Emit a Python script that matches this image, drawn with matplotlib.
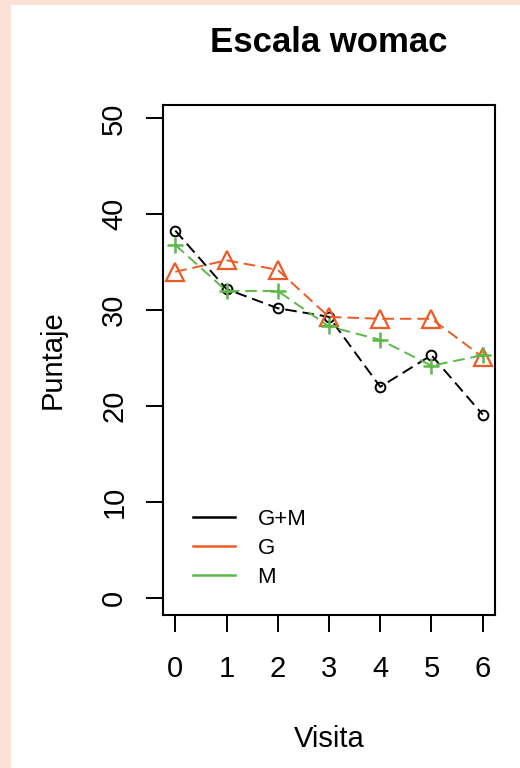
import matplotlib.pyplot as plt
from matplotlib.patches import Rectangle

visita = [0, 1, 2, 3, 4, 5, 6]
gm = [38.3, 32.2, 30.2, 29.3, 22.0, 25.3, 19.1]
g = [34.0, 35.2, 34.2, 29.3, 29.1, 29.1, 25.1]
m = [36.8, 32.0, 32.0, 28.3, 26.9, 24.2, 25.3]

plt.rcParams["font.family"] = ["Liberation Sans", "DejaVu Sans"]

fig = plt.figure(figsize=(5.2, 7.68), dpi=100, facecolor="#fce2d6")
fig.patches.append(Rectangle((11 / 520, 0), 1, 763 / 768, transform=fig.transFigure,
                             facecolor="white", edgecolor="none", zorder=-10))

ax = fig.add_axes([163 / 520, 1 - 615 / 768, 332 / 520, 510 / 768])

dash = (6, 3)
ax.plot(visita, gm, color="black", lw=1.4, dashes=dash, marker="o", ms=7,
        mfc="none", mec="black", mew=1.4, label="G+M")
ax.plot(visita, g, color="#ee5a24", lw=1.4, dashes=dash, marker="^", ms=13,
        mfc="none", mec="#ee5a24", mew=1.6, label="G")
ax.plot(visita, m, color="#5cb848", lw=1.4, dashes=dash, marker="+", ms=12,
        mec="#5cb848", mew=1.8, label="M")

ax.set_xlim(-0.24, 6.24)
ax.set_ylim(-1.8, 51.4)
ax.set_xticks(visita)
ax.set_yticks([0, 10, 20, 30, 40, 50])
ax.tick_params(direction="out", length=12, width=1.4, labelsize=21)
ax.tick_params(axis="x", pad=17)
ax.tick_params(axis="y", pad=13)
for lab in ax.get_yticklabels():
    lab.set_rotation(90)
    lab.set_va("center")
for sp in ax.spines.values():
    sp.set_linewidth(1.5)

ax.set_title("Escala womac", fontsize=25, fontweight="bold", pad=38)
ax.set_xlabel("Visita", fontsize=21, labelpad=30)
ax.set_ylabel("Puntaje", fontsize=21, labelpad=24)

handles = [plt.Line2D([], [], color=c, lw=1.8) for c in ["black", "#ee5a24", "#5cb848"]]
ax.legend(handles, ["G+M", "G", "M"], loc="lower left",
          bbox_to_anchor=(30 / 332, 27 / 510), borderaxespad=0, borderpad=0,
          frameon=False, fontsize=16, handlelength=1.9, labelspacing=0.36,
          handletextpad=1.0)

fig.savefig("out.png", dpi=100, facecolor=fig.get_facecolor())
